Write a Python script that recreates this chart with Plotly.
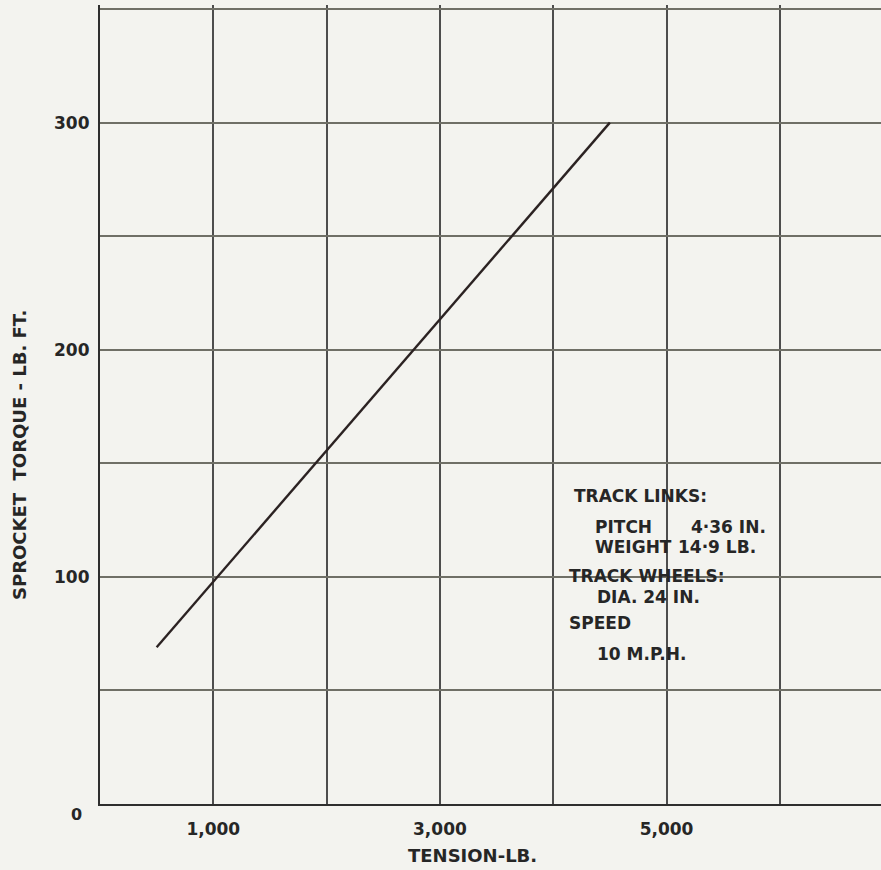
import plotly.graph_objects as go

# ---- data ----
tension_lb = [500, 4500]
torque_lbft = [69, 300]

x_grid_vals = [0, 1000, 2000, 3000, 4000, 5000, 6000]
x_tick_text = ["", "1,000", "", "3,000", "", "5,000", ""]
y_grid_vals = [0, 50, 100, 150, 200, 250, 300, 350]
y_tick_text = ["", "", "100", "", "200", "", "300", ""]

note_lines = ["TRACK LINKS:", "PITCH", "4·36 IN.", "WEIGHT", "14·9 LB.",
              "TRACK WHEELS:", "DIA. 24 IN.", "SPEED", "10 M.P.H."]
note_x = [4170, 4350, 5200, 4350, 5080, 4120, 4370, 4120, 4370]
note_y = [135.5, 122.0, 122.0, 113.0, 113.0, 100.5, 91.0, 79.5, 66.0]

FONT = "DejaVu Sans"
INK = "#262626"
PAPER = "#f3f3ef"

fig = go.Figure()
fig.add_trace(go.Scatter(x=tension_lb, y=torque_lbft, mode="lines",
                         line=dict(color="#2b2222", width=2.4),
                         showlegend=False, hoverinfo="skip"))

annos = []
for t, x, y in zip(note_lines, note_x, note_y):
    annos.append(dict(x=x, y=y, xref="x", yref="y", text=t, showarrow=False,
                      xanchor="left", yanchor="middle",
                      font=dict(family=FONT, size=17, color=INK, weight="bold")))
# origin label
annos.append(dict(x=(76 - 100) / 781, y=(870 - 814 - 66) / 799, xref="paper", yref="paper",
                  text="0", showarrow=False, xanchor="center", yanchor="middle",
                  font=dict(family=FONT, size=16, color=INK, weight="bold")))
# axis titles
annos.append(dict(x=(472 - 100) / 781, y=(870 - 855 - 66) / 799, xref="paper", yref="paper",
                  text="TENSION-LB.", showarrow=False, xanchor="center", yanchor="middle",
                  font=dict(family=FONT, size=18, color=INK, weight="bold")))
annos.append(dict(x=(19 - 100) / 781, y=(870 - 455 - 66) / 799, xref="paper", yref="paper",
                  text="SPROCKET  TORQUE - LB. FT.", showarrow=False, textangle=-90,
                  xanchor="center", yanchor="middle",
                  font=dict(family=FONT, size=18, color=INK, weight="bold")))

fig.update_layout(
    width=881, height=870,
    margin=dict(l=100, r=0, t=5, b=66),
    paper_bgcolor=PAPER, plot_bgcolor=PAPER,
    annotations=annos,
    xaxis=dict(range=[0, 6893], tickmode="array", tickvals=x_grid_vals, ticktext=x_tick_text,
               showgrid=True, gridcolor="#4d4d4d", gridwidth=1.6,
               showline=True, linecolor="#2e2e2e", linewidth=2.2,
               ticks="", ticklabelstandoff=8, zeroline=False,
               tickfont=dict(family=FONT, size=17, color=INK, weight="bold")),
    yaxis=dict(range=[0, 351.8], tickmode="array", tickvals=y_grid_vals, ticktext=y_tick_text,
               showgrid=True, gridcolor="#6f6f66", gridwidth=1.6,
               showline=True, linecolor="#2e2e2e", linewidth=2.2,
               ticks="", ticklabelstandoff=5, zeroline=False,
               tickfont=dict(family=FONT, size=17, color=INK, weight="bold")),
)

fig.write_html("out.html", config={"displayModeBar": False},
               post_script="document.body.style.margin='0px';document.body.style.overflow='hidden';")
